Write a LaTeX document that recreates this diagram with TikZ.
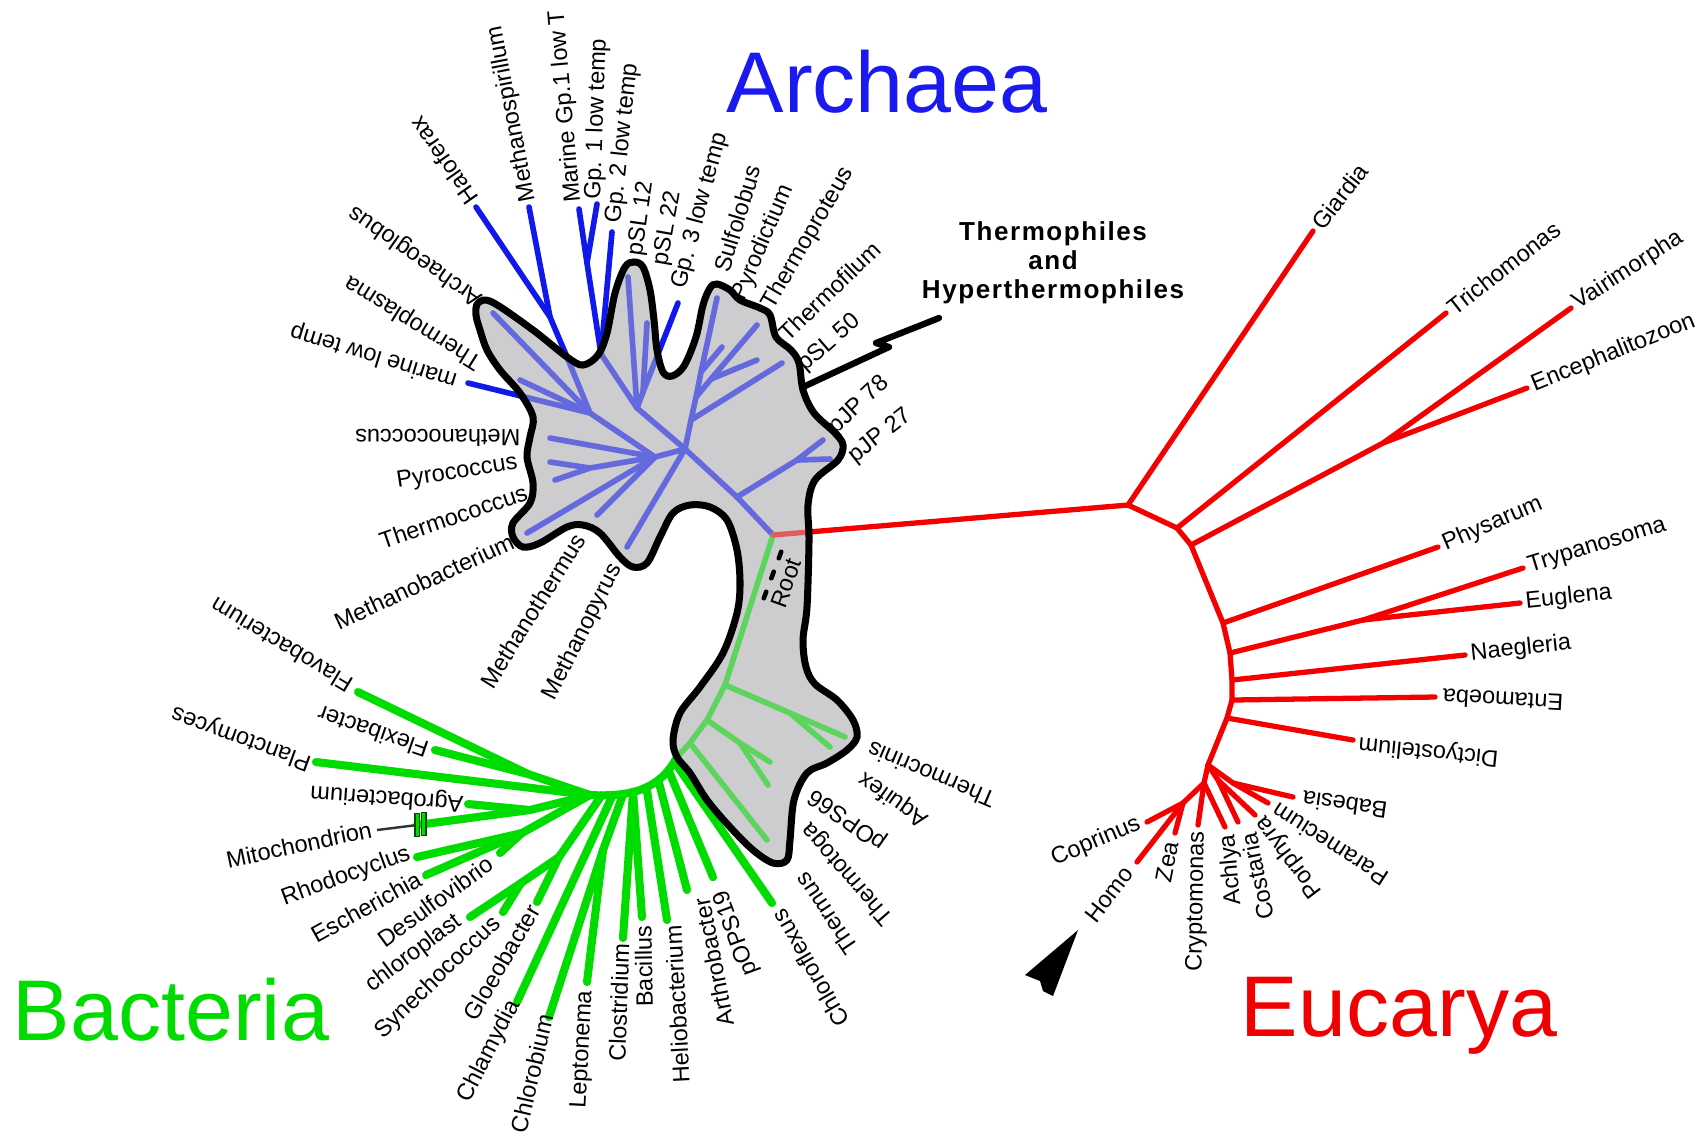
\documentclass[tikz,border=0pt]{standalone}
\usepackage{fontspec}
\setmainfont{Liberation Sans}
\newfontfamily\thermofont[LetterSpace=6]{Liberation Sans}
\newcommand\labfont{\fontsize{6.7}{8}\selectfont}
\newcommand\titlefont{\fontsize{24.5}{29}\selectfont}
\definecolor{archblue}{RGB}{15,25,235}
\definecolor{bacgreen}{RGB}{0,220,0}
\definecolor{eucred}{RGB}{245,0,0}
\definecolor{blobgray}{RGB}{205,204,207}
\definecolor{tArchC}{RGB}{25,25,240}
\definecolor{tBacC}{RGB}{0,220,0}
\definecolor{tEucC}{RGB}{240,0,0}
\tikzset{
  lab/.style={font=\labfont, inner sep=0pt},
  bl/.style={draw=archblue, line width=1.6pt, line cap=round, line join=round},
  gr/.style={draw=bacgreen, line width=2.3pt, line cap=round, line join=round},
  gri/.style={draw=bacgreen, line width=1.6pt, line cap=round, line join=round},
  rd/.style={draw=eucred, line width=1.5pt, line cap=round, line join=round},
  title/.style={font=\titlefont, inner sep=0pt, anchor=base},
  rootdash/.style={line width=1.3pt, line cap=round}
}
\begin{document}
\begin{tikzpicture}[x=0.01cm,y=-0.01cm]
\useasboundingbox[fill=white] (0,0) rectangle (1704,1147);

% ---- blob base ----
\fill[blobgray] plot[smooth cycle, tension=0.55] coordinates {
(478,303) (492,302) (533,330) (567,357) (583,365) (598,355) (607,333) (615,293) (625,267) (634,262) (643,267) (650,290) (654,320) (657,350) (663,372) (672,376) (684,366) (696,337) (703,305) (710,288) (717,284) (730,290) (740,300) (760,308) (770,315) (776,337) (791,350) (799,363) (803,390) (814,413) (835,433) (843,445) (838,460) (815,480) (808,505) (809,540) (807,607) (803,640) (806,667) (815,684) (837,700) (853,720) (857,737) (847,750) (827,763) (807,773) (794,800) (790,840) (787,860) (773,863) (753,850) (730,827) (707,800) (690,773) (677,757) (673,740) (680,713) (700,687) (723,653) (737,613) (740,583) (737,550) (727,520) (710,507) (690,505) (673,513) (660,537) (647,563) (633,567) (620,557) (600,533) (583,525) (567,527) (540,543) (523,547) (513,537) (513,523) (530,503) (533,483) (527,457) (530,437) (533,417) (520,393) (500,370) (487,350) (480,330) (476,315)};

% ---- coordinates ----
\coordinate (R) at (773,535);
% Archaea
\coordinate (A1) at (737,497);
\coordinate (Ap) at (797,460);
\coordinate (tpJP78) at (823,440);
\coordinate (tpJP27) at (830,459);
\coordinate (A2) at (685,449);
\coordinate (C1) at (691,420);
\coordinate (C2) at (696,397);
\coordinate (C3) at (701,372);
\coordinate (Cf) at (711,379);
\coordinate (tSulf) at (717,298);
\coordinate (tPyrod) at (722,347);
\coordinate (tTprot) at (757,325);
\coordinate (tTfil) at (757,360);
\coordinate (tpSL50) at (782,363);
\coordinate (A4) at (637,408);
\coordinate (A4b) at (643,392);
\coordinate (tpSL12) at (628,277);
\coordinate (tpSL22) at (647,323);
\coordinate (tGp3) at (678,303);
\coordinate (N1) at (601,354);
\coordinate (M1) at (587,263);
\coordinate (tMarG1) at (579,209);
\coordinate (tGp1) at (597,204);
\coordinate (tGp2) at (612,232);
\coordinate (E) at (655,457);
\coordinate (L1) at (590,413);
\coordinate (tLobe) at (493,313);
\coordinate (tTpla) at (520,380);
\coordinate (H0) at (567,357);
\coordinate (Hm) at (550,317);
\coordinate (tHalo) at (476,207);
\coordinate (tMspir) at (529,207);
\coordinate (tmlt) at (468,383);
\coordinate (tMcoc) at (550,438);
\coordinate (Py) at (590,468);
\coordinate (tPyro) at (550,462);
\coordinate (tTcoc) at (555,480);
\coordinate (tMbac) at (527,533);
\coordinate (tMthe) at (597,515);
\coordinate (tMpyr) at (627,547);
% Bacteria
\coordinate (G1) at (725,685);
\coordinate (Ga) at (790,713);
\coordinate (tTcri) at (845,737);
\coordinate (tAqui) at (830,747);
\coordinate (G2) at (707,720);
\coordinate (Gb) at (740,743);
\coordinate (tpOPS66) at (770,762);
\coordinate (tTtog) at (768,785);
\coordinate (G3) at (690,743);
\coordinate (tTmus) at (767,840);
\coordinate (Gx) at (677,757);
\coordinate (H) at (590,795);
\coordinate (tChlf) at (772,903);
\coordinate (tpOPS19) at (713,877);
\coordinate (tArth) at (687,890);
\coordinate (tHeli) at (667,920);
\coordinate (tClos) at (623,938);
\coordinate (tBaci) at (642,917);
\coordinate (LC) at (603,850);
\coordinate (tLept) at (587,982);
\coordinate (tChlb) at (549,1017);
\coordinate (tChla) at (517,1002);
\coordinate (CS1) at (559,857);
\coordinate (tGloe) at (537,902);
\coordinate (CS2) at (521,883);
\coordinate (tChlp) at (470,917);
\coordinate (tSyne) at (503,912);
\coordinate (RE) at (522,833);
\coordinate (tRhod) at (417,857);
\coordinate (tEsch) at (426,875);
\coordinate (tDesu) at (500,853);
\coordinate (AM) at (530,810);
\coordinate (tAgro) at (468,804);
\coordinate (mb1) at (417,825);
\coordinate (tMito) at (377,830);
\coordinate (tPlan) at (316,762);
\coordinate (FF) at (528,774);
\coordinate (tFlavo) at (358,692);
\coordinate (tFlex) at (435,750);
% Eucarya
\coordinate (E0) at (1128,505);
\coordinate (tGiar) at (1313,231);
\coordinate (E1) at (1177,528);
\coordinate (tTrich) at (1446,313);
\coordinate (E2) at (1191,545);
\coordinate (EV) at (1383,443);
\coordinate (tVair) at (1571,308);
\coordinate (tEnce) at (1527,388);
\coordinate (E3) at (1223,623);
\coordinate (tPhys) at (1438,547);
\coordinate (E4) at (1230,653);
\coordinate (ETE) at (1363,620);
\coordinate (tTryp) at (1523,568);
\coordinate (tEugl) at (1520,603);
\coordinate (E5) at (1232,680);
\coordinate (tNaeg) at (1465,655);
\coordinate (E6) at (1232,700);
\coordinate (tEnta) at (1435,697);
\coordinate (E7) at (1227,718);
\coordinate (tDict) at (1353,740);
\coordinate (Eb) at (1208,765);
\coordinate (Ep) at (1233,783);
\coordinate (tBabe) at (1293,797);
\coordinate (tPara) at (1268,803);
\coordinate (Ec) at (1218,780);
\coordinate (tPorp) at (1255,815);
\coordinate (tCost) at (1238,822);
\coordinate (Ea) at (1204,783);
\coordinate (tAchl) at (1225,827);
\coordinate (tCryp) at (1198,825);
\coordinate (Ez) at (1183,803);
\coordinate (tZea) at (1175,833);
\coordinate (tHomo) at (1137,862);
\coordinate (tCopr) at (1147,822);

% ---- Archaea edges ----
\draw[bl] (R) -- (A1) -- (A2);
\draw[bl] (A1) -- (Ap) -- (tpJP78);
\draw[bl] (Ap) -- (tpJP27);
\draw[bl] (A2) -- (C1) -- (C2) -- (C3) -- (tSulf);
\draw[bl] (C1) -- (tpSL50);
\draw[bl] (C2) -- (Cf) -- (tTprot);
\draw[bl] (Cf) -- (tTfil);
\draw[bl] (C3) -- (tPyrod);
\draw[bl] (A2) -- (A4) -- (N1);
\draw[bl] (A4) -- (tpSL12);
\draw[bl] (A4) -- (A4b) -- (tpSL22);
\draw[bl] (A4b) -- (tGp3);
\draw[bl] (N1) -- (M1) -- (tMarG1);
\draw[bl] (M1) -- (tGp1);
\draw[bl] (N1) -- (tGp2);
\draw[bl] (A2) -- (E) -- (L1) -- (tLobe);
\draw[bl] (L1) -- (tTpla);
\draw[bl] (L1) -- (H0) -- (Hm) -- (tHalo);
\draw[bl] (Hm) -- (tMspir);
\draw[bl] (L1) -- (tmlt);
\draw[bl] (E) -- (tMcoc);
\draw[bl] (E) -- (Py) -- (tPyro);
\draw[bl] (Py) -- (tTcoc);
\draw[bl] (E) -- (tMbac);
\draw[bl] (E) -- (tMthe);
\draw[bl] (A2) -- (tMpyr);

% ---- Bacteria edges ----
\draw[gri] (R) -- (G1) -- (G2) -- (G3) -- (Gx);
\draw[gri] (G1) -- (Ga) -- (tTcri);
\draw[gri] (Ga) -- (tAqui);
\draw[gri] (G2) -- (Gb) -- (tpOPS66);
\draw[gri] (Gb) -- (tTtog);
\draw[gri] (G3) -- (tTmus);
\path (Gx) .. controls (660,790) and (630,797) .. (H)
  coordinate[pos=0.05] (b1) coordinate[pos=0.15] (b2) coordinate[pos=0.3] (b3)
  coordinate[pos=0.45] (b4) coordinate[pos=0.6] (b5) coordinate[pos=0.7] (b6)
  coordinate[pos=0.8] (b7) coordinate[pos=0.9] (b8);
\draw[gr] (Gx) .. controls (660,790) and (630,797) .. (H);
\draw[gr] (b1) -- (tChlf);
\draw[gr] (b2) -- (tpOPS19);
\draw[gr] (b3) -- (tArth);
\draw[gr] (b4) -- (tHeli);
\draw[gr] (b5) -- (tClos);
\draw[gr] (b5) -- (tBaci);
\draw[gr] (b6) -- (LC) -- (tLept);
\draw[gr] (LC) -- (tChlb);
\draw[gr] (b7) -- (tChla);
\draw[gr] (b8) -- (CS1) -- (tGloe);
\draw[gr] (CS1) -- (CS2) -- (tChlp);
\draw[gr] (CS2) -- (tSyne);
\draw[gr] (H) -- (RE) -- (tRhod);
\draw[gr] (RE) -- (tEsch);
\draw[gr] (RE) -- (tDesu);
\draw[gr] (H) -- (AM) -- (tAgro);
\draw[gr] (AM) -- (mb1);
\draw[black!80, line width=0.7pt] (mb1) -- (tMito);
\draw[fill=bacgreen, draw=black!70!green, line width=0.3pt] (415,813) rectangle (419.5,836);
\draw[fill=bacgreen, draw=black!70!green, line width=0.3pt] (421.5,812) rectangle (426,835);
\draw[gr] (H) -- (tPlan);
\draw[gr] (H) -- (FF) -- (tFlavo);
\draw[gr] (FF) -- (tFlex);

% ---- Eucarya edges ----
\draw[rd] (R) -- (E0) -- (tGiar);
\draw[rd] (E0) -- (E1) -- (tTrich);
\draw[rd] (E1) -- (E2) -- (EV) -- (tVair);
\draw[rd] (EV) -- (tEnce);
\draw[rd] (E2) -- (E3) -- (tPhys);
\draw[rd] (E3) -- (E4) -- (ETE) -- (tTryp);
\draw[rd] (ETE) -- (tEugl);
\draw[rd] (E4) -- (E5) -- (tNaeg);
\draw[rd] (E5) -- (E6) -- (tEnta);
\draw[rd] (E6) -- (E7) -- (tDict);
\draw[rd] (E7) -- (Eb) -- (Ep) -- (tBabe);
\draw[rd] (Ep) -- (tPara);
\draw[rd] (Eb) -- (Ec) -- (tPorp);
\draw[rd] (Ec) -- (tCost);
\draw[rd] (Eb) -- (Ea) -- (tAchl);
\draw[rd] (Ea) -- (tCryp);
\draw[rd] (Ea) -- (Ez) -- (tHomo);
\draw[rd] (Ez) -- (tZea);
\draw[rd] (Ez) -- (tCopr);

% ---- blob overlay and outline ----
\path[fill=blobgray, fill opacity=0.45, draw=black, draw opacity=1, line width=2pt]
 plot[smooth cycle, tension=0.55] coordinates {
(478,303) (492,302) (533,330) (567,357) (583,365) (598,355) (607,333) (615,293) (625,267) (634,262) (643,267) (650,290) (654,320) (657,350) (663,372) (672,376) (684,366) (696,337) (703,305) (710,288) (717,284) (730,290) (740,300) (760,308) (770,315) (776,337) (791,350) (799,363) (803,390) (814,413) (835,433) (843,445) (838,460) (815,480) (808,505) (809,540) (807,607) (803,640) (806,667) (815,684) (837,700) (853,720) (857,737) (847,750) (827,763) (807,773) (794,800) (790,840) (787,860) (773,863) (753,850) (730,827) (707,800) (690,773) (677,757) (673,740) (680,713) (700,687) (723,653) (737,613) (740,583) (737,550) (727,520) (710,507) (690,505) (673,513) (660,537) (647,563) (633,567) (620,557) (600,533) (583,525) (567,527) (540,543) (523,547) (513,537) (513,523) (530,503) (533,483) (527,457) (530,437) (533,417) (520,393) (500,370) (487,350) (480,330) (476,315)};

% ---- root marks ----
\node[lab, rotate=70] (nRoot) at (786,583) {Root};
\draw[rootdash] (781.2,551.7) -- (778.8,558.3);
\draw[rootdash] (773.7,571.7) -- (771.3,578.3);
\draw[rootdash] (766.2,591.7) -- (763.8,598.3);

% ---- thermophiles label and zigzag ----
\node[font=\thermofont\bfseries\fontsize{7.4}{8.3}\selectfont, align=center, inner sep=0pt] (thermo) at (1053,263) {Thermophiles\\and\\Hyperthermophiles};
\coordinate (zzA) at (939,318);
\coordinate (zzB) at (803,387);
\draw[line width=1.8pt, line join=round, line cap=round] (zzA) -- (876,343) -- (889,347) -- (zzB);

% ---- arrowhead ----
\fill[black] (1078,930) -- (1025,975) -- (1040,981) -- (1043,991) -- (1053,996) -- cycle;

% ---- titles ----
\node[title, text=tArchC] (tArch) at (887,112) {Archaea};
\node[title, text=tBacC] (tBac) at (171,1040) {Bacteria};
\node[title, text=tEucC] (tEuc) at (1399,1036) {Eucarya};

% ---- Archaea labels ----
\node[lab,rotate=125,anchor=west] (nHalo) at (473,203) {Haloferax};
\node[lab,rotate=101,anchor=west] (nMspir) at (529,202) {Methanospirillum};
\node[lab,rotate=95,anchor=west] (nMarG1) at (574,203) {Marine Gp.1 low T};
\node[lab,rotate=88,anchor=west] (nGp1) at (594,200) {Gp. 1 low temp};
\node[lab,rotate=84,anchor=west] (nGp2) at (614,224) {Gp. 2 low temp};
\node[lab,rotate=82,anchor=west] (npSL12) at (636,256) {pSL 12};
\node[lab,rotate=80,anchor=west] (npSL22) at (661,266) {pSL 22};
\node[lab,rotate=75,anchor=west] (nGp3) at (679,289) {Gp. 3 low temp};
\node[lab,rotate=73,anchor=west] (nSulf) at (721,272) {Sulfolobus};
\node[lab,rotate=67,anchor=west] (nPyrod) at (739,300) {Pyrodictium};
\node[lab,rotate=60,anchor=west] (nTprot) at (768,308) {Thermoproteus};
\node[lab,rotate=44,anchor=west] (nTfil) at (782,337) {Thermofilum};
\node[lab,rotate=41,anchor=west] (npSL50) at (801,368) {pSL 50};
\node[lab,rotate=43,anchor=west] (npJP78) at (832,431) {pJP 78};
\node[lab,rotate=38,anchor=west] (npJP27) at (851,459) {pJP 27};
\node[lab,rotate=145,anchor=west] (nArgl) at (481,301) {Archaeoglobus};
\node[lab,rotate=148,anchor=west] (nTpla) at (481,364) {Thermoplasma};
\node[lab,rotate=163,anchor=west] (nmlt) at (457,381) {marine low temp};
\node[lab,rotate=180,anchor=west] (nMcoc) at (521,438) {Methanococcus};
\node[lab,rotate=9,anchor=east] (nPyro) at (518,463) {Pyrococcus};
\node[lab,rotate=19,anchor=east] (nTcoc) at (527,491) {Thermococcus};
\node[lab,rotate=25,anchor=east] (nMbac) at (513,540) {Methanobacterium};
\node[lab,rotate=58,anchor=east] (nMthe) at (580,535) {Methanothermus};
\node[lab,rotate=63,anchor=east] (nMpyr) at (617,565) {Methanopyrus};

% ---- Bacteria labels ----
\node[lab,rotate=149,anchor=west] (nFlavo) at (351,687) {Flavobacterium};
\node[lab,rotate=161,anchor=west] (nFlex) at (428,751) {Flexibacter};
\node[lab,rotate=160,anchor=west] (nPlan) at (311,763) {Planctomyces};
\node[lab,rotate=176,anchor=west] (nAgro) at (464,803) {Agrobacterium};
\node[lab,rotate=12,anchor=east] (nMito) at (372,829) {Mitochondrion};
\node[lab,rotate=20,anchor=east] (nRhod) at (410,853) {Rhodocyclus};
\node[lab,rotate=29,anchor=east] (nEsch) at (420,877) {Escherichia};
\node[lab,rotate=36,anchor=east] (nDesu) at (491,861) {Desulfovibrio};
\node[lab,rotate=37,anchor=east] (nChlp) at (460,919) {chloroplast};
\node[lab,rotate=44,anchor=east] (nSyne) at (498,920) {Synechococcus};
\node[lab,rotate=60,anchor=east] (nGloe) at (534,906) {Gloeobacter};
\node[lab,rotate=63,anchor=east] (nChla) at (515,1001) {Chlamydia};
\node[lab,rotate=77,anchor=east] (nChlb) at (546,1014) {Chlorobium};
\node[lab,rotate=87,anchor=east] (nLept) at (586,990) {Leptonema};
\node[lab,rotate=88,anchor=east] (nClos) at (621,943) {Clostridium};
\node[lab,rotate=91,anchor=east] (nBaci) at (643,925) {Bacillus};
\node[lab,rotate=93,anchor=east] (nHeli) at (673,925) {Heliobacterium};
\node[lab,rotate=101,anchor=east] (nArth) at (701,898) {Arthrobacter};
\node[lab,rotate=110,anchor=east] (npOPS19) at (721,890) {pOPS19};
\node[lab,rotate=120,anchor=east] (nChlf) at (777,911) {Chloroflexus};
\node[lab,rotate=124,anchor=east] (nTmus) at (800,875) {Thermus};
\node[lab,rotate=131,anchor=east] (nTtog) at (806,825) {Thermotoga};
\node[lab,rotate=145,anchor=east] (npOPS66) at (811,793) {pOPS66};
\node[lab,rotate=145,anchor=east] (nAqui) at (861,776) {Aquifex};
\node[lab,rotate=157,anchor=east] (nTcri) at (868,748) {Thermocrinis};

% ---- Eucarya labels ----
\node[lab,rotate=52,anchor=west] (nGiar) at (1316,227) {Giardia};
\node[lab,rotate=38,anchor=west] (nTrich) at (1450,310) {Trichomonas};
\node[lab,rotate=33,anchor=west] (nVair) at (1575,305) {Vairimorpha};
\node[lab,rotate=22,anchor=west] (nEnce) at (1532,386) {Encephalitozoon};
\node[lab,rotate=23,anchor=west] (nPhys) at (1443,545) {Physarum};
\node[lab,rotate=17,anchor=west] (nTryp) at (1528,567) {Trypanosoma};
\node[lab,rotate=6,anchor=west] (nEugl) at (1525,602) {Euglena};
\node[lab,rotate=6,anchor=west] (nNaeg) at (1470,654) {Naegleria};
\node[lab,rotate=177,anchor=east] (nEnta) at (1442,697) {Entamoeba};
\node[lab,rotate=174.5,anchor=east] (nDict) at (1358,744) {Dictyostelium};
\node[lab,rotate=172,anchor=east] (nBabe) at (1302,799) {Babesia};
\node[lab,rotate=147,anchor=east] (nPara) at (1274,808) {Paramecium};
\node[lab,rotate=127,anchor=east] (nPorp) at (1260,818) {Porphyra};
\node[lab,rotate=102,anchor=east] (nCost) at (1248,833) {Costaria};
\node[lab,rotate=95,anchor=east] (nAchl) at (1228,834) {Achlya};
\node[lab,rotate=89,anchor=east] (nCryp) at (1198,831) {Cryptomonas};
\node[lab,rotate=79,anchor=east] (nZea) at (1171,841) {Zea};
\node[lab,rotate=52,anchor=east] (nHomo) at (1129,869) {Homo};
\node[lab,rotate=23,anchor=east] (nCopr) at (1140,823) {Coprinus};
\end{tikzpicture}
\end{document}
